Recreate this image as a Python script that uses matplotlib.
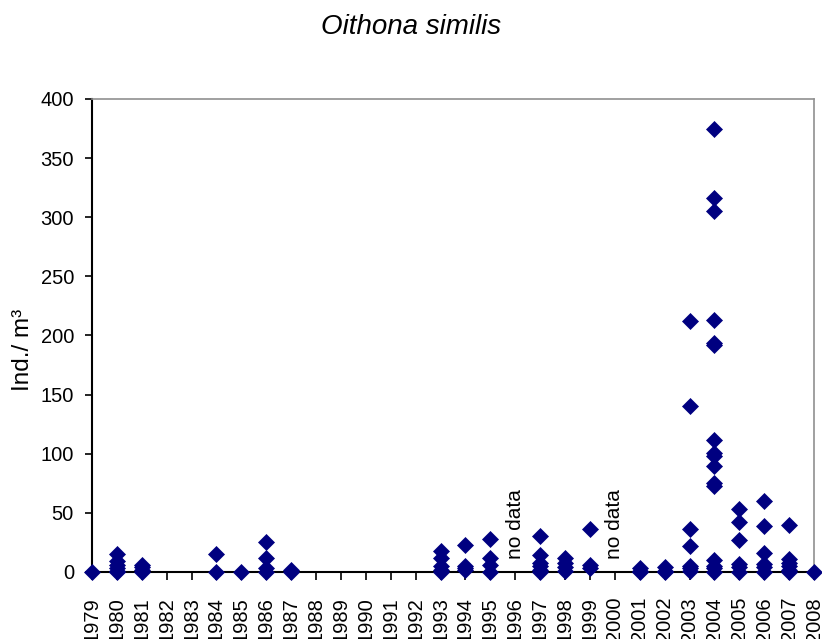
import matplotlib
matplotlib.use("Agg")
import matplotlib.pyplot as plt

plt.rcParams['font.family'] = ['Liberation Sans', 'DejaVu Sans']

# abundance samples per year (Ind./m3)
years = [1979, 1980, 1981, 1984, 1985, 1986, 1987, 1993, 1994, 1995,
         1997, 1998, 1999, 2001, 2002, 2003, 2004, 2005, 2006, 2007, 2008]
values = [
    [0],
    [15, 9, 6, 3, 1, 0],
    [6, 4, 2, 0],
    [15, 0],
    [0],
    [25, 12, 3, 0],
    [2, 0],
    [18, 12, 5, 2, 0],
    [23, 5, 3, 2],
    [28, 12, 6, 0],
    [30, 14, 8, 5, 2, 0],
    [12, 8, 4, 1],
    [36, 6, 3],
    [3, 1, 0],
    [4, 1, 0],
    [212, 140, 36, 22, 5, 3, 1],
    [375, 316, 305, 213, 194, 192, 112, 101, 98, 90, 75, 73, 10, 5, 3, 0],
    [53, 42, 27, 7, 4, 0],
    [60, 39, 16, 7, 4, 0],
    [40, 11, 8, 5, 2, 0],
    [0],
]
no_data_years = [1996, 2000]
tick_years = list(range(1979, 2009))

xs = []
ys = []
for yr, vals in zip(years, values):
    for v in vals:
        xs.append(yr)
        ys.append(v)

fig = plt.figure(figsize=(8.22, 6.39), dpi=100)
ax = fig.add_axes([0.1119, 0.1049, 0.8784, 0.7402])

ax.plot(xs, ys, linestyle='none', marker='D', markersize=8.2,
        color='#000080', markeredgewidth=0.5, clip_on=False, zorder=5)

for yr in no_data_years:
    ax.text(yr, 11, 'no data', rotation=90, ha='center', va='bottom', fontsize=15)

ax.set_xlim(1979, 2008)
ax.set_ylim(0, 400)
ax.set_xticks(tick_years)
ax.set_xticklabels([str(t) for t in tick_years], rotation=90, fontsize=14.5)
ax.set_yticks(range(0, 401, 50))
ax.tick_params(axis='y', labelsize=14.5, direction='out', length=5, width=1.2, pad=8)
ax.tick_params(axis='x', direction='out', length=6, width=1.2, pad=12)

for s in ['left', 'bottom']:
    ax.spines[s].set_color('black')
    ax.spines[s].set_linewidth(1.5)
for s in ['top', 'right']:
    ax.spines[s].set_color('#909090')
    ax.spines[s].set_linewidth(1.2)

fig.text(0.5, 0.958, 'Oithona similis', style='italic', fontsize=20,
         ha='center', va='center')
fig.text(0.028, 0.452, 'Ind./ m³', rotation=90, fontsize=17.5,
         ha='center', va='center')

fig.savefig('out.png', dpi=100)
